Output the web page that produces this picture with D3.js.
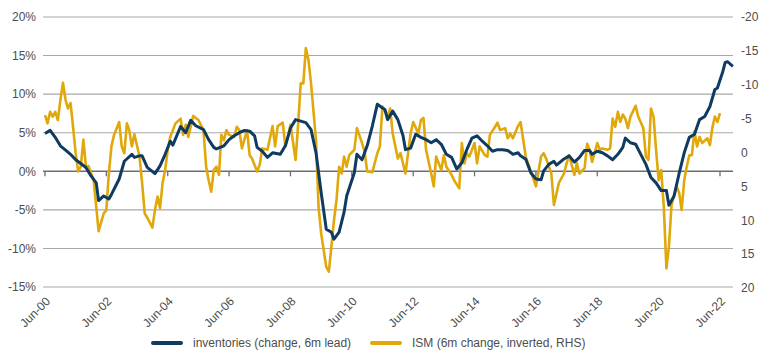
<!DOCTYPE html>
<html>
<head>
<meta charset="utf-8">
<script src="https://cdn.jsdelivr.net/npm/d3@7"></script>
<style>
  html, body { margin: 0; padding: 0; background: #fff; }
  svg { display: block; font-family: "Liberation Sans", Arial, sans-serif; }
</style>
</head>
<body>
<svg id="chart" width="770" height="358"></svg>
<script>
// ---- Data (months are offsets from Jun-2000) ----
const xTickLabels = ["Jun-00","Jun-02","Jun-04","Jun-06","Jun-08","Jun-10","Jun-12","Jun-14","Jun-16","Jun-18","Jun-20","Jun-22"];
const leftTicks = [-15, -10, -5, 0, 5, 10, 15, 20];
const rightTicks = [-20, -15, -10, -5, 0, 5, 10, 15, 20];
const seriesNames = ["inventories (change, 6m lead)", "ISM (6m change, inverted, RHS)"];

const invMonths = [0,2,4,6,8,10,12,14,16,18,20,21,23,25,26,29,31,34,35,37,38,40,43,45,47,49,50,53,55,57,59,62,64,66,67,70,72,74,76,78,80,82,83,85,87,89,92,94,96,98,100,102,104,106,108,110,112,113,115,117,118,121,122,124,126,128,130,132,133,134,136,138,140,141,143,145,147,149,151,153,155,157,159,161,163,165,167,169,171,173,175,177,179,181,183,185,186,188,190,192,194,195,197,199,200,203,205,207,209,211,213,214,216,218,220,222,224,226,227,229,231,233,235,237,239,241,243,244,246,248,250,252,254,256,258,260,262,263,265,266,267,269];
const invValues = [4.9,5.3,4.4,3.3,2.75,2.2,1.5,1.0,0.5,-0.6,-1.5,-3.8,-3.2,-3.6,-3.0,-1.0,1.3,2.2,1.8,2.0,2.0,0.5,-0.3,0.7,2.2,3.9,3.4,5.8,5.0,6.6,5.9,5.4,4.1,3.1,2.9,3.3,4.1,4.6,5.0,5.3,5.2,4.6,3.1,2.6,1.8,2.4,2.2,3.3,5.6,6.7,6.5,6.3,5.4,2.4,-2.75,-7.5,-7.9,-8.8,-7.9,-5.3,-3.2,-0.2,2.2,1.5,3.3,5.9,8.7,8.2,8.0,6.7,7.8,6.7,4.6,2.8,3.0,4.8,4.4,4.1,3.7,4.1,3.5,2.2,1.8,0.3,1.1,2.8,4.3,4.6,3.9,3.3,2.6,2.8,2.8,2.7,2.2,2.4,2.0,1.55,-0.2,-1.0,-1.1,0.05,0.9,1.3,0.8,1.6,2.0,1.2,1.8,2.7,2.7,2.2,2.6,2.4,2.0,1.5,2.2,3.1,4.3,3.7,3.5,2.2,0.9,-0.8,-1.5,-2.5,-2.5,-4.4,-3.2,-0.2,2.4,4.4,4.8,6.7,7.1,8.4,10.6,10.8,12.8,14.1,14.2,13.6];

const ismMonths = [0,1,2,3,4,5,6,7,8,9,10,11,12,13,14,15,16,17,19,20,21,23,24,25,26,27,29,30,31,32,33,34,35,37,38,39,40,42,43,44,45,46,47,48,49,51,53,54,55,56,58,60,62,63,64,65,66,67,68,69,70,71,72,74,75,76,77,79,80,81,83,84,85,87,89,90,91,93,94,95,96,98,99,100,101,102,103,104,106,107,108,110,111,112,113,114,115,116,117,118,119,121,122,124,125,126,128,130,131,132,134,135,136,138,139,141,143,144,146,147,148,149,151,152,153,155,156,157,159,160,162,163,164,165,166,168,169,170,172,173,174,176,177,178,180,181,182,183,185,186,188,190,192,194,195,196,198,199,201,203,204,205,207,208,209,211,212,213,214,216,217,218,220,221,222,223,224,225,226,227,228,229,231,232,234,235,236,237,238,239,240,241,242,243,244,245,247,248,249,250,251,252,253,254,255,256,257,259,260,261,262,263,264];
const ismValues = [-5.5,-4.3,-6.0,-5.3,-6.0,-4.8,-7.75,-10.3,-7.75,-6.5,-7.3,-3.8,0.1,2.8,2.1,-1.9,2.1,2.0,4.1,8.0,11.6,9.0,8.5,3.1,-0.9,-2.6,-4.5,-0.9,0.1,-4.3,-3.3,-0.9,-2.7,0.6,4.5,9.0,9.6,11.1,8.5,6.5,8.2,4.5,2.6,-0.4,-2.3,-4.3,-5.0,-2.6,-4.1,-2.3,-5.4,-4.8,-3.3,2.1,4.1,5.8,2.6,2.1,3.3,-2.6,-1.8,-3.3,-2.6,-2.3,-3.8,-3.3,-0.6,-3.3,0.4,0.9,2.8,1.8,-0.6,-0.4,-3.9,-0.9,-3.9,-4.4,-0.9,-2.3,-4.1,1.1,-4.3,-10.2,-10.2,-15.4,-13.7,-10.2,-1.8,8.0,11.9,16.9,17.6,13.9,10.0,7.0,2.1,3.1,0.6,2.1,0.4,-0.4,-3.6,-1.4,-0.1,2.8,2.9,0.1,-0.9,-6.8,-5.3,-6.5,-2.8,0.9,0.1,3.1,-2.8,-4.5,-2.8,-4.8,-5.1,-0.4,3.1,5.0,0.6,2.6,0.4,2.1,3.3,4.1,5.3,-1.4,1.6,0.1,0.6,-1.4,1.6,-0.9,0.4,0.6,-2.6,-3.8,-4.4,-3.3,-3.6,-2.1,-2.8,-2.1,-3.9,-4.5,0.6,2.8,5.0,0.6,0.1,0.9,3.1,7.75,4.5,3.1,1.6,0.4,3.3,1.6,3.1,2.3,-1.3,-0.4,1.4,-1.4,-0.4,-0.6,-0.4,-0.6,-5.0,-3.8,-6.0,-4.5,-5.6,-5.0,-3.6,-5.3,-6.9,-5.3,-3.6,0.6,1.1,-6.5,-5.3,-0.4,4.1,2.6,8.0,17.1,13.9,7.75,5.0,6.0,8.5,4.1,2.1,0.4,0.4,-3.1,-0.9,-2.3,-1.4,-2.1,-1.1,-3.6,-5.3,-4.5,-5.8];

// ---- Layout ----
const svg = d3.select("#chart");
const plotLeft = 43, plotRight = 733, plotTop = 17, plotBottom = 287;
const navy = "#0f3b63", gold = "#e0a80a", textCol = "#4d4d4d";

const start = new Date(2000, 5, 1);
const toDate = m => d3.timeMonth.offset(start, m);
const parseTick = d3.timeParse("%b-%y");

const x = d3.scaleTime().domain([start, toDate(264)]).range([45, 720]);
const yL = d3.scaleLinear().domain([-15, 20]).range([plotBottom, plotTop]);
const yR = d3.scaleLinear().domain([-20, 20]).range([plotTop, 288]);

// grid lines
svg.append("g").selectAll("line").data(leftTicks).join("line")
  .attr("x1", plotLeft).attr("x2", plotRight)
  .attr("y1", d => yL(d)).attr("y2", d => yL(d))
  .attr("stroke", d => d === 0 ? "#6e6e6e" : "#a8a8a8")
  .attr("stroke-width", d => d === 0 ? 1.6 : 1.1);

// left axis labels
const gL = svg.append("g").attr("transform", `translate(${plotLeft - 7},0)`)
  .call(d3.axisLeft(yL).tickValues(leftTicks).tickFormat(d => d + "%").tickSize(0).tickPadding(0));
gL.select(".domain").remove();
gL.selectAll("text").attr("fill", textCol).style("font-size", "12px").style("font-family", "Liberation Sans, Arial, sans-serif");

// right axis labels
const gR = svg.append("g").attr("transform", `translate(${plotRight + 8},0)`)
  .call(d3.axisRight(yR).tickValues(rightTicks).tickFormat(d => d).tickSize(0).tickPadding(0));
gR.select(".domain").remove();
gR.selectAll("text").attr("fill", textCol).style("font-size", "12px").style("font-family", "Liberation Sans, Arial, sans-serif");

// tick marks on zero line
const tickDates = xTickLabels.map(parseTick);
svg.append("g").selectAll("line").data(tickDates).join("line")
  .attr("x1", d => x(d)).attr("x2", d => x(d))
  .attr("y1", yL(0)).attr("y2", yL(0) + 5)
  .attr("stroke", "#6e6e6e").attr("stroke-width", 1.3);

// x labels at bottom
svg.append("g").selectAll("text").data(tickDates).join("text")
  .attr("transform", d => `translate(${x(d) + 6},${plotBottom + 15}) rotate(-45)`)
  .attr("text-anchor", "end")
  .attr("fill", textCol)
  .style("font-size", "12px")
  .text((d, i) => xTickLabels[i]);

// lines
const ismData = ismMonths.map((m, i) => ({ d: toDate(m), v: ismValues[i] }));
const invData = invMonths.map((m, i) => ({ d: toDate(m), v: invValues[i] }));

svg.append("path").datum(ismData)
  .attr("fill", "none").attr("stroke", gold).attr("stroke-width", 2.6)
  .attr("stroke-linejoin", "round")
  .attr("d", d3.line().x(p => x(p.d)).y(p => yR(p.v)));

svg.append("path").datum(invData)
  .attr("fill", "none").attr("stroke", navy).attr("stroke-width", 3)
  .attr("stroke-linejoin", "round")
  .attr("d", d3.line().x(p => x(p.d)).y(p => yL(p.v)));

// legend
const legend = [
  { name: seriesNames[0], color: navy, x: 153 },
  { name: seriesNames[1], color: gold, x: 372 }
];
const lg = svg.append("g");
legend.forEach(l => {
  lg.append("line").attr("x1", l.x).attr("x2", l.x + 28).attr("y1", 343).attr("y2", 343)
    .attr("stroke", l.color).attr("stroke-width", 4).attr("stroke-linecap", "round");
  lg.append("text").attr("x", l.x + 40).attr("y", 347).attr("fill", textCol)
    .style("font-size", "12px").text(l.name);
});
</script>
</body>
</html>
